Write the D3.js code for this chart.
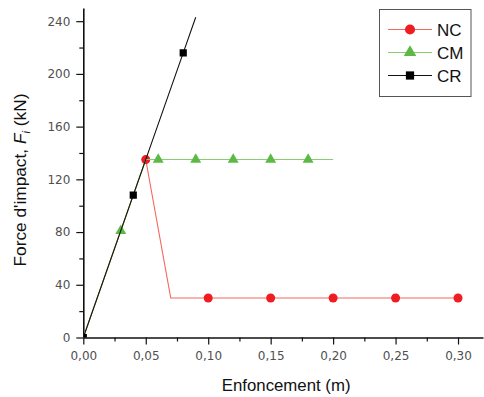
<!DOCTYPE html>
<html>
<head>
<meta charset="utf-8">
<script src="https://cdn.jsdelivr.net/npm/d3@7"></script>
<style>
  html, body { margin: 0; padding: 0; background: #fff; }
  svg { display: block; }
</style>
</head>
<body>
<svg id="chart" width="484" height="397"></svg>
<script>
// ---- Data ----
const xTicks = [0, 0.05, 0.10, 0.15, 0.20, 0.25, 0.30];
const yTicks = [0, 40, 80, 120, 160, 200, 240];

// NC : line path and markers
const ncLine = [[0, 0], [0.05, 135], [0.07, 30], [0.30, 30]];
const ncPoints = [[0.05, 135], [0.10, 30], [0.15, 30], [0.20, 30], [0.25, 30], [0.30, 30]];
// CM
const cmLine = [[0, 0], [0.03, 81], [0.05, 135], [0.20, 135]];
const cmPoints = [[0.03, 81], [0.06, 135], [0.09, 135], [0.12, 135], [0.15, 135], [0.18, 135]];
// CR
const crLine = [[0, 0], [0.04, 108], [0.08, 216], [0.09, 243]];
const crPoints = [[0, 0], [0.04, 108], [0.08, 216]];

const seriesNames = ["NC", "CM", "CR"];

// ---- Layout ----
const svg = d3.select("#chart");
const mLeft = 83.3, mRight = 483, mTop = 8, mBottom = 337.5;
const x = d3.scaleLinear().domain([0, 0.32]).range([mLeft, mRight]);
const y = d3.scaleLinear().domain([0, 250]).range([mBottom, mTop]);

const fmt = d => d3.format(".2f")(d).replace(".", ",");

const tickFont = "'DejaVu Sans', sans-serif";
const titleFont = "'Liberation Sans', Arial, sans-serif";

// minor ticks
const xMinor = d3.range(0.025, 0.32, 0.05);
const yMinor = d3.range(20, 250, 40);

const gx = svg.append("g").attr("transform", `translate(0,${mBottom})`);
gx.call(d3.axisBottom(x).tickValues(xTicks).tickFormat(fmt).tickSize(7).tickSizeOuter(0));
gx.append("g").call(d3.axisBottom(x).tickValues(xMinor).tickFormat("").tickSize(4).tickSizeOuter(0))
  .select(".domain").remove();

const gy = svg.append("g").attr("transform", `translate(${mLeft},0)`);
gy.call(d3.axisLeft(y).tickValues(yTicks).tickFormat(d3.format("d")).tickSize(7).tickSizeOuter(0));
gy.append("g").call(d3.axisLeft(y).tickValues(yMinor).tickFormat("").tickSize(4).tickSizeOuter(0))
  .select(".domain").remove();

svg.selectAll(".domain").attr("stroke", "#111").attr("stroke-width", 1.6);
svg.selectAll(".tick line").attr("stroke", "#111").attr("stroke-width", 1.2);
gx.selectAll(".tick text").attr("font-family", tickFont).attr("font-size", 12).attr("fill", "#505050").attr("dy", "1.05em");
gy.selectAll(".tick text").attr("font-family", tickFont).attr("font-size", 12).attr("fill", "#505050").attr("dx", "-0.25em");

// axis titles
svg.append("text")
  .attr("x", (mLeft + mRight) / 2 + 3).attr("y", 391)
  .attr("text-anchor", "middle")
  .attr("font-family", titleFont).attr("font-size", 16.8).attr("fill", "#111")
  .text("Enfoncement (m)");

const yt = svg.append("text")
  .attr("transform", "translate(26,180) rotate(-90)")
  .attr("text-anchor", "middle")
  .attr("font-family", titleFont).attr("font-size", 17.3).attr("fill", "#111");
yt.append("tspan").text("Force d'impact, ");
yt.append("tspan").attr("font-style", "italic").text("F");
yt.append("tspan").attr("font-size", 11.5).attr("dy", 4).attr("font-style", "italic").text("i");
yt.append("tspan").attr("dy", -4).text(" (kN)");

// clip
svg.append("clipPath").attr("id", "plotclip")
  .append("rect").attr("x", mLeft).attr("y", 0).attr("width", mRight - mLeft).attr("height", mBottom);

const plot = svg.append("g").attr("clip-path", "url(#plotclip)");
const line = d3.line().x(d => x(d[0])).y(d => y(d[1]));

const styles = {
  NC: { line: "#f26b5b", marker: "#ee1d23", shape: d3.symbolCircle, size: 64 },
  CM: { line: "#86cf6e", marker: "#5cb946", shape: d3.symbolTriangle, size: 52 },
  CR: { line: "#111", marker: "#000", shape: d3.symbolSquare, size: 52 }
};
const lines = { NC: ncLine, CM: cmLine, CR: crLine };
const points = { NC: ncPoints, CM: cmPoints, CR: crPoints };

seriesNames.forEach(name => {
  const s = styles[name];
  plot.append("path").datum(lines[name])
    .attr("d", line).attr("fill", "none").attr("stroke", s.line).attr("stroke-width", 1.1);
  plot.selectAll(null).data(points[name]).enter().append("path")
    .attr("transform", d => `translate(${x(d[0])},${y(d[1])})`)
    .attr("d", d3.symbol().type(s.shape).size(s.size))
    .attr("fill", s.marker);
});

// legend
const lg = svg.append("g");
lg.append("rect").attr("x", 379.5).attr("y", 9.5).attr("width", 91.5).attr("height", 87)
  .attr("fill", "#fff").attr("stroke", "#555").attr("stroke-width", 1);
seriesNames.forEach((name, i) => {
  const s = styles[name];
  const yy = 29.5 + i * 23;
  lg.append("line").attr("x1", 388).attr("x2", 432).attr("y1", yy).attr("y2", yy)
    .attr("stroke", s.line).attr("stroke-width", 1.1);
  lg.append("path").attr("transform", `translate(410,${yy})`)
    .attr("d", d3.symbol().type(s.shape).size(name === "NC" ? 80 : 68)).attr("fill", s.marker);
  lg.append("text").attr("x", 437).attr("y", yy + 6.2)
    .attr("font-family", titleFont).attr("font-size", 17).attr("fill", "#111").text(name);
});
</script>
</body>
</html>
